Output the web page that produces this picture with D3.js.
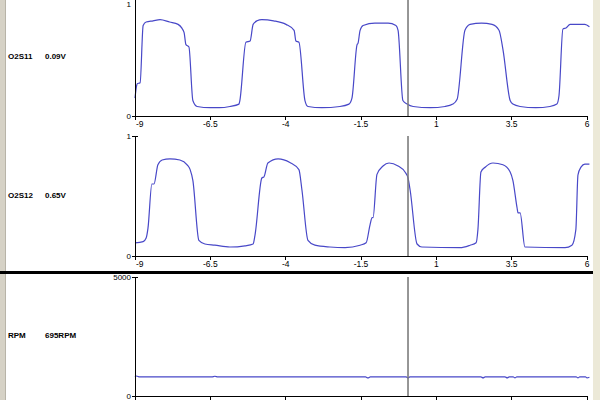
<!DOCTYPE html>
<html>
<head>
<meta charset="utf-8">
<script src="https://cdn.jsdelivr.net/npm/d3@7"></script>
<style>
  body { margin: 0; background: #fff; }
  svg { display: block; font-family: "Liberation Sans", Arial, sans-serif; }
</style>
</head>
<body>
<div id="chart"></div>
<script>
// time axis (seconds), shared by all three traces
const timeTicks = [-9, -6.5, -4, -1.5, 1, 3.5, 6]
const cursorTime = 0.06

// O2S11 trace, [time, volts]
const o2s11 = [
  [-9.00, 0.15], [-8.95, 0.25], [-8.93, 0.27], [-8.83, 0.28], [-8.73, 0.76], [-8.63, 0.79],
  [-8.40, 0.80], [-8.17, 0.81], [-7.85, 0.79], [-7.57, 0.77], [-7.45, 0.74], [-7.37, 0.70],
  [-7.31, 0.60], [-7.21, 0.58], [-7.08, 0.13], [-6.94, 0.08], [-6.50, 0.07], [-6.20, 0.07],
  [-5.85, 0.08], [-5.55, 0.10], [-5.52, 0.13], [-5.32, 0.62], [-5.18, 0.63], [-5.08, 0.77],
  [-4.95, 0.80], [-4.79, 0.81], [-4.40, 0.80], [-3.99, 0.77], [-3.72, 0.72], [-3.66, 0.63],
  [-3.56, 0.62], [-3.36, 0.13], [-3.26, 0.08], [-2.80, 0.07], [-2.20, 0.08], [-1.90, 0.10],
  [-1.80, 0.15], [-1.63, 0.60], [-1.60, 0.61], [-1.53, 0.72], [-1.43, 0.76], [-1.04, 0.78],
  [-0.60, 0.78], [-0.34, 0.76], [-0.27, 0.72], [-0.11, 0.13], [0.03, 0.10], [0.23, 0.08],
  [0.80, 0.07], [1.29, 0.08], [1.55, 0.10], [1.69, 0.14], [1.95, 0.72], [2.12, 0.77],
  [2.50, 0.78], [2.85, 0.77], [3.08, 0.72], [3.21, 0.56], [3.45, 0.13], [3.54, 0.10],
  [3.78, 0.08], [4.30, 0.07], [4.77, 0.08], [5.00, 0.10], [5.07, 0.17], [5.20, 0.73],
  [5.30, 0.74], [5.44, 0.77], [5.93, 0.77], [6.08, 0.75]
]

// O2S12 trace, [time, volts]
const o2s12 = [
  [-9.00, 0.11], [-8.73, 0.12], [-8.63, 0.15], [-8.57, 0.23], [-8.44, 0.60], [-8.37, 0.60],
  [-8.24, 0.76], [-8.10, 0.80], [-7.84, 0.81], [-7.51, 0.80], [-7.27, 0.76], [-7.17, 0.72],
  [-7.08, 0.63], [-6.88, 0.13], [-6.68, 0.10], [-6.35, 0.09], [-5.85, 0.075], [-5.35, 0.085],
  [-5.08, 0.10], [-5.02, 0.17], [-4.79, 0.65], [-4.72, 0.66], [-4.59, 0.775], [-4.25, 0.81],
  [-3.86, 0.78], [-3.56, 0.72], [-3.46, 0.55], [-3.26, 0.13], [-3.03, 0.09], [-2.53, 0.075],
  [-2.03, 0.07], [-1.53, 0.09], [-1.33, 0.11], [-1.20, 0.26], [-1.13, 0.32], [-1.10, 0.32],
  [-0.97, 0.68], [-0.77, 0.75], [-0.57, 0.775], [-0.27, 0.75], [-0.04, 0.70], [0.06, 0.65],
  [0.13, 0.55], [0.36, 0.10], [0.52, 0.075], [1.79, 0.07], [2.12, 0.09], [2.32, 0.11],
  [2.38, 0.22], [2.48, 0.70], [2.62, 0.74], [2.88, 0.775], [3.21, 0.76], [3.45, 0.70],
  [3.54, 0.63], [3.68, 0.40], [3.71, 0.36], [3.78, 0.36], [3.94, 0.075], [5.27, 0.07],
  [5.50, 0.09], [5.63, 0.22], [5.70, 0.675], [5.80, 0.74], [5.93, 0.765], [6.08, 0.765]
]

// RPM trace, [time, rpm] - almost flat idle with tiny wiggles
const rpm = [
  [-9.00, 800], [-8.95, 840], [-8.85, 800], [-6.45, 800], [-6.35, 830], [-6.25, 800],
  [-1.35, 800], [-1.27, 760], [-1.19, 800], [0.00, 800], [0.06, 760], [0.12, 800],
  [2.48, 800], [2.55, 765], [2.62, 800], [3.28, 800], [3.35, 765], [3.42, 800],
  [3.55, 800], [3.61, 765], [3.67, 800], [5.64, 800], [5.70, 765], [5.76, 800],
  [5.95, 800], [6.00, 765], [6.08, 790]
]

// panel names + readouts
const names    = ["O2S11", "O2S12", "RPM"]
const readouts = ["0.09V", "0.65V", "695RPM"]
const yMax     = [1, 1, 5000]
const yTickLabels = [["0", "1"], ["0", "1"], ["0", "5000"]]

const width = 600, height = 400
const lineColor = "#4848c8"

const svg = d3.select("#chart").append("svg")
  .attr("width", width)
  .attr("height", height)

// window frame strips left/right
svg.append("rect").attr("x", 0).attr("y", 0).attr("width", 6).attr("height", height).attr("fill", "#d6d2c6")
svg.append("rect").attr("x", 5).attr("y", 0).attr("width", 1).attr("height", height).attr("fill", "#b8b4a8")
svg.append("rect").attr("x", 593).attr("y", 0).attr("width", 7).attr("height", height).attr("fill", "#ece9d8")

const x = d3.scaleLinear().domain([-9, 6]).range([135, 587])

// vertical pixel extents of each panel [bottom, top]
const panelRanges = [[116, -3], [256, 136], [396, 277]]
const labelY = [59, 198, 338]
const series = [o2s11, o2s12, rpm]

panelRanges.forEach((r, i) => {
  const y = d3.scaleLinear().domain([0, yMax[i]]).range(r)
  const g = svg.append("g")

  // trace - monotone keeps the steps but rounds the shoulders
  g.append("path")
    .datum(series[i])
    .attr("fill", "none")
    .attr("stroke", lineColor)
    .attr("stroke-width", 1.2)
    .attr("stroke-linejoin", "round")
    .attr("d", d3.line().curve(d3.curveMonotoneX).x(d => x(d[0])).y(d => y(d[1])))

  // cursor
  g.append("line")
    .attr("x1", x(cursorTime)).attr("x2", x(cursorTime))
    .attr("y1", Math.max(0, r[1])).attr("y2", r[0])
    .attr("stroke", "#7c7c7c")
    .attr("stroke-width", 1.6)

  // axes
  g.append("line")
    .attr("x1", x(-9)).attr("x2", x(-9))
    .attr("y1", r[1]).attr("y2", r[0])
    .attr("stroke", "#000").attr("shape-rendering", "crispEdges")
  g.append("line")
    .attr("x1", x(-9)).attr("x2", x(6) + 1)
    .attr("y1", r[0]).attr("y2", r[0])
    .attr("stroke", "#000").attr("shape-rendering", "crispEdges")

  // y ticks crossing the axis
  ;[0, yMax[i]].forEach((v, j) => {
    g.append("line")
      .attr("x1", x(-9) - 3).attr("x2", x(-9) + 3)
      .attr("y1", y(v)).attr("y2", y(v))
      .attr("stroke", "#000").attr("shape-rendering", "crispEdges")
    // the top label of the first panel sits at the window edge; nudge it in
    g.append("text")
      .attr("x", x(-9) - 4).attr("y", Math.max(y(v), 4))
      .attr("dy", "0.35em")
      .attr("text-anchor", "end")
      .attr("font-size", 8)
      .text(yTickLabels[i][j])
  })

  // x ticks
  timeTicks.forEach((t, j) => {
    g.append("line")
      .attr("x1", x(t)).attr("x2", x(t))
      .attr("y1", r[0]).attr("y2", r[0] + 4)
      .attr("stroke", "#000").attr("shape-rendering", "crispEdges")
    if (i < 2) {
      g.append("text")
        .attr("x", j === 0 ? x(t) + 1 : x(t))
        .attr("y", r[0] + 11)
        .attr("text-anchor", j === 0 ? "start" : "middle")
        .attr("font-size", 8.5)
        .text(t)
    }
  })

  // name + readout
  g.append("text").attr("x", 8).attr("y", labelY[i])
    .attr("font-size", 8).attr("font-weight", "bold").text(names[i])
  g.append("text").attr("x", 45).attr("y", labelY[i])
    .attr("font-size", 8).attr("font-weight", "bold").text(readouts[i])
})

// thick separator above the RPM panel
svg.append("rect").attr("x", 0).attr("y", 271).attr("width", 593).attr("height", 3).attr("fill", "#000")
</script>
</body>
</html>
